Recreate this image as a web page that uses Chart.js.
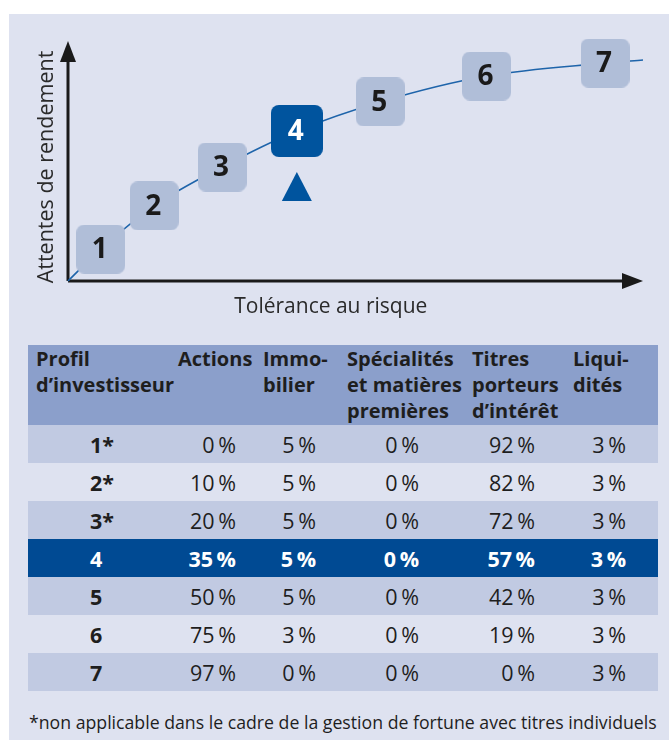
<!DOCTYPE html>
<html><head><meta charset="utf-8">
<script src="https://cdn.jsdelivr.net/npm/chart.js@4.4.1/dist/chart.umd.min.js"></script>
<style>
html,body{margin:0;padding:0;background:#fff;}
#page{position:relative;width:669px;height:740px;overflow:hidden;background:#fff;font-family:"Open Sans",sans-serif;color:#1e1e1e;}
#panel{position:absolute;left:9px;top:14px;width:660px;height:726px;background:#dee2f0;}
#chartBox{position:absolute;left:0;top:0;width:669px;height:330px;}
table{position:absolute;left:28px;top:345px;width:630px;border-collapse:collapse;table-layout:fixed;}
th{background:#8b9fcb;font-weight:700;font-size:20px;line-height:26px;text-align:left;vertical-align:top;padding:1px 0 0 8px;height:80px;box-sizing:border-box;white-space:nowrap;}
td{font-size:21.5px;height:38px;padding:0;text-align:right;vertical-align:middle;white-space:nowrap;}
tbody tr:nth-child(odd) td{background:#c1cae2;}
tbody tr:nth-child(even) td{background:#dee2f0;}
tbody tr.sel td{background:#004a93;color:#fff;font-weight:700;}
td.p{text-align:left;padding-left:62px;font-weight:700;}
td.c2{padding-right:19px;} td.c3{padding-right:23px;} td.c4{padding-right:45px;} td.c5{padding-right:30px;} td.c6{padding-right:32px;}
#note{position:absolute;left:29px;top:712px;font-size:17.7px;line-height:20px;white-space:nowrap;}
</style></head>
<body><div id="page">
<div id="panel"></div>
<div id="chartBox"><canvas id="c"></canvas></div>
<table id="tbl"><colgroup><col style="width:142px"><col style="width:85px"><col style="width:84px"><col style="width:125px"><col style="width:101px"><col style="width:93px"></colgroup>
<thead><tr id="hdr"></tr></thead><tbody id="tb"></tbody></table>
<div id="note"></div>
</div>
<script>
// ---- data ----
const profiles = ['1','2','3','4','5','6','7'];
const riskTolerance = [5.7, 15.0, 26.8, 39.8, 54.3, 72.8, 93.4];
const expectedReturn = [13.3, 31.3, 47.5, 62.5, 74.6, 85.4, 90.8];
const curveStart = {x: 0, y: 0};
const curveEnd = {x: 100, y: 92.1};
const selectedProfile = '4';
const xAxisTitle = 'Tolérance au risque';
const yAxisTitle = 'Attentes de rendement';

const tableHeaders = ['Profil<br>d\u2019investisseur','Actions','Immo-<br>bilier','Spécialités<br>et matières<br>premières','Titres<br>porteurs<br>d\u2019intérêt','Liqui-<br>dités'];
const tableProfiles = ['1*','2*','3*','4','5','6','7'];
const actions = [0, 10, 20, 35, 50, 75, 97];
const immobilier = [5, 5, 5, 5, 5, 3, 0];
const specialites = [0, 0, 0, 0, 0, 0, 0];
const titresPorteurs = [92, 82, 72, 57, 42, 19, 0];
const liquidites = [3, 3, 3, 3, 3, 3, 3];
const footnote = '*non applicable dans le cadre de la gestion de fortune avec titres individuels';

// ---- table ----
const hdr = document.getElementById('hdr');
tableHeaders.forEach(h => { const th = document.createElement('th'); th.innerHTML = h; hdr.appendChild(th); });
const tb = document.getElementById('tb');
const pct = v => v + '\u2009%';
tableProfiles.forEach((p, i) => {
  const tr = document.createElement('tr');
  if (p === selectedProfile) tr.className = 'sel';
  const cells = [p, pct(actions[i]), pct(immobilier[i]), pct(specialites[i]), pct(titresPorteurs[i]), pct(liquidites[i])];
  cells.forEach((c, j) => { const td = document.createElement('td'); td.className = j === 0 ? 'p' : 'c' + (j + 1); td.textContent = c; tr.appendChild(td); });
  tb.appendChild(tr);
});
document.getElementById('note').textContent = footnote;

// ---- chart ----
function boxImage(size, color) {
  const cv = document.createElement('canvas');
  cv.width = size; cv.height = size;
  const g = cv.getContext('2d');
  g.fillStyle = color;
  g.beginPath();
  g.roundRect(0, 0, size, size, 8);
  g.fill();
  return cv;
}
const lightBox = boxImage(49, '#b0bed8');
const darkBox = boxImage(52, '#00549e');

const axisPlugin = {
  id: 'axes',
  beforeDatasetsDraw(chart) {
    const {ctx, scales: {x, y}} = chart;
    const x0 = x.getPixelForValue(0), y0 = y.getPixelForValue(0);
    const xEnd = x.getPixelForValue(100), yEnd = y.getPixelForValue(100);
    ctx.save();
    ctx.strokeStyle = '#1a1a1a'; ctx.fillStyle = '#1a1a1a'; ctx.lineWidth = 3;
    ctx.beginPath();
    ctx.moveTo(x0, y0); ctx.lineTo(x0, yEnd + 18);
    ctx.moveTo(x0, y0); ctx.lineTo(xEnd - 18, y0);
    ctx.stroke();
    ctx.beginPath();
    ctx.moveTo(x0, yEnd); ctx.lineTo(x0 - 8, yEnd + 21); ctx.lineTo(x0 + 8, yEnd + 21); ctx.closePath(); ctx.fill();
    ctx.beginPath();
    ctx.moveTo(xEnd, y0); ctx.lineTo(xEnd - 21, y0 - 8); ctx.lineTo(xEnd - 21, y0 + 8); ctx.closePath(); ctx.fill();
    ctx.fillStyle = '#2a2a2a';
    ctx.font = '21px "Open Sans"';
    ctx.textAlign = 'center'; ctx.textBaseline = 'alphabetic';
    ctx.fillText(xAxisTitle, x0 + (xEnd - x0) * 0.457, y0 + 32);
    ctx.font = '21.5px "Open Sans"';
    ctx.translate(x0 - 15, (y0 + yEnd) / 2 + 6);
    ctx.rotate(-Math.PI / 2);
    ctx.fillText(yAxisTitle, 0, 0);
    ctx.restore();
  },
  afterDatasetsDraw(chart) {
    const {ctx} = chart;
    const meta = chart.getDatasetMeta(0);
    ctx.save();
    ctx.font = 'bold 28px "Open Sans"';
    ctx.textAlign = 'center'; ctx.textBaseline = 'middle';
    meta.data.forEach((pt, i) => {
      const sel = profiles[i] === selectedProfile;
      ctx.fillStyle = sel ? '#ffffff' : '#1a1a1a';
      ctx.fillText(profiles[i], pt.x - 1, pt.y + 1);
      if (sel) {
        ctx.fillStyle = '#00549e';
        ctx.beginPath();
        ctx.moveTo(pt.x, pt.y + 41);
        ctx.lineTo(pt.x + 15, pt.y + 70);
        ctx.lineTo(pt.x - 15, pt.y + 70);
        ctx.closePath(); ctx.fill();
      }
    });
    ctx.restore();
  }
};

const points = profiles.map((p, i) => ({x: riskTolerance[i], y: expectedReturn[i]}));

new Chart(document.getElementById('c'), {
  type: 'scatter',
  data: {
    datasets: [
      {
        label: 'Profils',
        data: points,
        showLine: false,
        pointStyle: ctx => profiles[ctx.dataIndex] === selectedProfile ? darkBox : lightBox,
        pointRadius: 25,
        pointHoverRadius: 25,
        clip: false
      },
      {
        label: 'Courbe',
        data: [curveStart, ...points, curveEnd],
        showLine: true,
        borderColor: '#1e64aa',
        borderWidth: 1.6,
        pointRadius: 0,
        cubicInterpolationMode: 'monotone',
        fill: false,
        clip: false
      }
    ]
  },
  options: {
    responsive: true,
    maintainAspectRatio: false,
    animation: false,
    events: [],
    layout: {padding: {left: 68, right: 23, top: 41, bottom: 49}},
    plugins: {legend: {display: false}, tooltip: {enabled: false}},
    scales: {
      x: {type: 'linear', min: 0, max: 100, display: false},
      y: {type: 'linear', min: 0, max: 100, display: false}
    }
  },
  plugins: [axisPlugin]
});
</script>
</body></html>
